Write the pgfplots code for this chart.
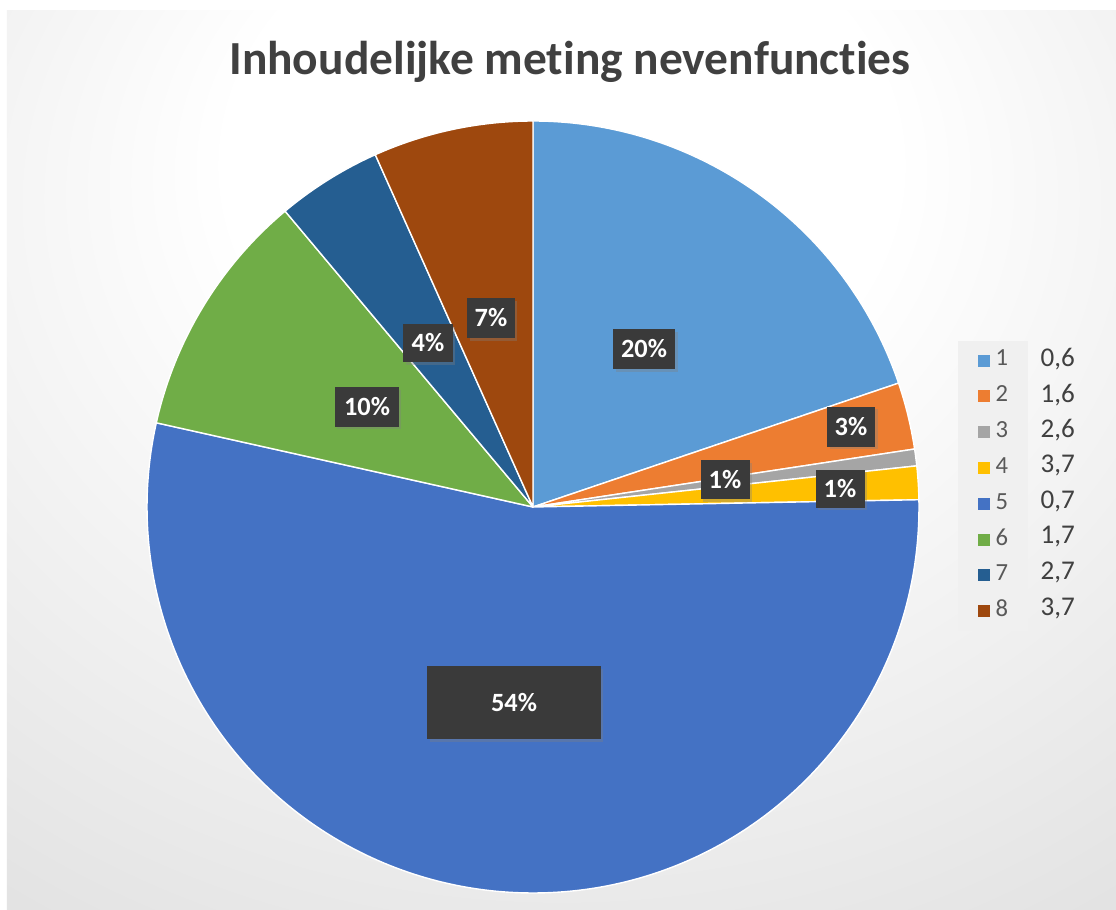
\documentclass[border=0pt]{standalone}
\usepackage{pgfplots}
\pgfplotsset{compat=1.18}
\usepackage{pgfplotstable}
\usepackage{fontspec}
\setmainfont{Carlito}[Ligatures=NoCommon]
\usetikzlibrary{shadows}

\definecolor{c1}{HTML}{5B9BD5}
\definecolor{c2}{HTML}{ED7D31}
\definecolor{c3}{HTML}{A5A5A5}
\definecolor{c4}{HTML}{FFC000}
\definecolor{c5}{HTML}{4472C4}
\definecolor{c6}{HTML}{70AD47}
\definecolor{c7}{HTML}{255E91}
\definecolor{c8}{HTML}{9E480E}
\definecolor{labfill}{HTML}{3A3A3A}
\definecolor{titlecol}{HTML}{404040}
\definecolor{legtext}{HTML}{595959}

\tikzset{lab/.style={fill=labfill, text=white, inner sep=0pt,
    font=\fontsize{7.5pt}{9pt}\selectfont\bfseries,
    drop shadow={shadow xshift=0.025cm, shadow yshift=-0.025cm, opacity=0.35}}}

\pgfdeclareradialshading{bgshade}{\pgfpoint{0bp}{20bp}}{%
  color(0bp)=(white); color(15bp)=(white); color(85bp)=(black!28)}

% slice values (percent), label box centre/size in px from top-left, colour, legend text
\pgfplotstableread{
id val  lx  ly  bw  bh col txt
1  19.8 644 349 62  40 c1  0,6
2  2.8  851 427 48  40 c2  1,6
3  0.7  725 480 49  39 c3  2,6
4  1.4  840 489 49  38 c4  3,7
5  53.8 514 703 174 73 c5  0,7
6  10.4 367 407 64  40 c6  1,7
7  4.4  428 343 50  38 c7  2,7
8  6.7  491 318 48  40 c8  3,7
}\slices

% cumulative start/end angles, clockwise from the top
\def\cum{90}
\pgfplotsinvokeforeach{0,...,7}{%
  \pgfplotstablegetelem{#1}{val}\of\slices%
  \pgfmathsetmacro\ea{\cum-3.6*\pgfplotsretval}%
  \expandafter\xdef\csname sa#1\endcsname{\cum}%
  \expandafter\xdef\csname ea#1\endcsname{\ea}%
  \xdef\cum{\ea}%
}

\begin{document}
\begin{tikzpicture}
\begin{axis}[
    scale only axis,
    width=11.16cm, height=9.10cm,
    xmin=0, xmax=1116, ymin=0, ymax=910,
    hide axis, clip=false,
    legend image code/.code={\fill[#1, draw=none] (0cm,-0.06cm) rectangle (0.12cm,0.06cm);},
    legend cell align=left,
    legend style={
        at={(axis cs:957,570)}, anchor=north west,
        fill=black!6, draw=none,
        font=\fontsize{7pt}{8pt}\selectfont, text=legtext,
        inner xsep=0.2cm, inner ysep=0.02cm,
        row sep=0pt, column sep=0.06cm,
        nodes={inner sep=0pt, minimum height=0.358cm},
    },
]
    % background
    \fill[white] (axis cs:0,0) rectangle (axis cs:1116,910);
    \shade[shading=bgshade] (axis cs:7,0) rectangle (axis cs:1116,900);

    % slices
    \pgfplotsinvokeforeach{0,...,7}{%
        \pgfplotstablegetelem{#1}{col}\of\slices \let\slcol\pgfplotsretval
        \edef\temp{\noexpand\fill[fill=\slcol, draw=white, line width=0.4pt, line join=round]
            (axis cs:533,403) -- ++(\csname sa#1\endcsname:3.86cm)
            arc[start angle=\csname sa#1\endcsname, end angle=\csname ea#1\endcsname, radius=3.86cm] -- cycle;}%
        \temp
    }

    % data labels
    \pgfplotsinvokeforeach{0,...,7}{%
        \pgfplotstablegetelem{#1}{val}\of\slices \pgfmathtruncatemacro\pct{round(\pgfplotsretval)}%
        \pgfplotstablegetelem{#1}{lx}\of\slices \let\lx\pgfplotsretval
        \pgfplotstablegetelem{#1}{ly}\of\slices \pgfmathsetmacro\ly{910-\pgfplotsretval}%
        \pgfplotstablegetelem{#1}{bw}\of\slices \pgfmathsetmacro\bw{\pgfplotsretval/100}%
        \pgfplotstablegetelem{#1}{bh}\of\slices \pgfmathsetmacro\bh{\pgfplotsretval/100}%
        \edef\temp{\noexpand\node[lab, minimum width=\bw cm, minimum height=\bh cm]
            at (axis cs:\lx,\ly) {\pct\noexpand\%};}%
        \temp
    }

    % legend and the value column beside it
    \pgfplotsinvokeforeach{0,...,7}{%
        \pgfplotstablegetelem{#1}{col}\of\slices \let\slcol\pgfplotsretval
        \pgfplotstablegetelem{#1}{id}\of\slices \let\slid\pgfplotsretval
        \pgfplotstablegetelem{#1}{txt}\of\slices \let\sltxt\pgfplotsretval
        \pgfmathsetmacro\ry{910-(359+35.6*#1)}%
        \edef\temp{\noexpand\addlegendimage{fill=\slcol}\noexpand\addlegendentry{\slid}%
            \noexpand\node[anchor=west, inner sep=0pt, text=titlecol,
                font=\noexpand\fontsize{7.7pt}{9pt}\noexpand\selectfont]
                at (axis cs:1040,\ry) {\sltxt};}%
        \temp
    }

    % title
    \node[anchor=base, text=titlecol, font=\fontsize{13.5pt}{16pt}\selectfont\bfseries]
        at (axis cs:570,836) {Inhoudelijke meting nevenfuncties};
\end{axis}
\pgfresetboundingbox
\path (0,0) rectangle (11.16cm,9.10cm);
\end{tikzpicture}
\end{document}
